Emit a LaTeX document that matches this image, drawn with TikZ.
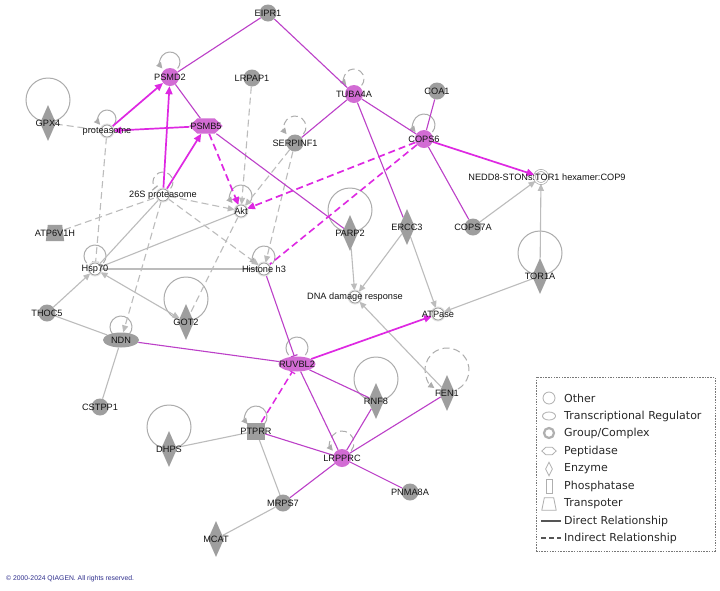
\documentclass[tikz,border=0pt]{standalone}
\usepackage{fontspec}
\setmainfont{Liberation Sans}
\newfontfamily\legfont{DejaVu Sans}
\usetikzlibrary{arrows.meta,shapes.geometric}
\pgfdeclarelayer{background}
\pgfsetlayers{background,main}
\definecolor{mline}{RGB}{188,64,200}
\definecolor{marr}{RGB}{222,40,226}
\definecolor{mnode}{RGB}{210,108,212}
\definecolor{gnode}{RGB}{158,158,158}
\definecolor{gline}{RGB}{188,188,188}
\definecolor{gloop}{RGB}{172,172,172}
\definecolor{onode}{RGB}{150,150,150}
\definecolor{ohalo}{RGB}{226,226,226}
\definecolor{txt}{RGB}{20,20,20}
\definecolor{copyc}{RGB}{45,45,140}
\definecolor{legtext}{RGB}{40,40,40}
\definecolor{licon}{RGB}{175,175,175}
\definecolor{legbox}{RGB}{120,120,120}
\definecolor{legline}{RGB}{85,85,85}
\newcommand\mknode[4]{\node[#2] (#1) at (#3) {}; \node[lab] (#1-t) at (#1) {#4};}
\newcommand\mkloop[4]{\draw[#4] ([shift={(-40:#3pt)},yshift=#2pt]#1.center) arc[start angle=-40,end angle=220,radius=#3pt];}
\newcommand\mkbig[3]{\draw[#3] ([yshift=#2pt]#1.center) circle[radius=22pt];}
\tikzset{
  lab/.style={font=\fontsize{9.2}{10}\selectfont, text=txt, inner sep=0pt},
  othern/.style={circle, draw=onode, line width=0.7pt, fill=white, minimum size=12pt, inner sep=0pt, preaction={draw=ohalo, line width=3pt}},
  cplx/.style={circle, draw=onode, line width=0.6pt, double=white, double distance=1.4pt, minimum size=13pt, inner sep=0pt},
  gcirc/.style={circle, fill=gnode, minimum size=17pt, inner sep=0pt},
  mcirc/.style={circle, fill=mnode, minimum size=18pt, inner sep=0pt},
  gdia/.style={diamond, fill=gnode, minimum width=16pt, minimum height=36pt, inner sep=0pt},
  gell/.style={ellipse, fill=gnode, minimum width=36pt, minimum height=15pt, inner sep=0pt},
  mell/.style={ellipse, fill=mnode, minimum width=37pt, minimum height=15pt, inner sep=0pt},
  ghost/.style={rectangle, inner sep=0pt},
  gphos/.style={rectangle, fill=gnode, minimum width=18pt, minimum height=17pt, inner sep=0pt},
  medge/.style={draw=mline, line width=1.1pt},
  marrow/.style={draw=marr, line width=1.7pt, -{Triangle[length=8pt,width=7pt]}},
  mdash/.style={dash pattern=on 7pt off 4pt},
  gedge/.style={draw=gline, line width=1.1pt},
  garrow/.style={gedge, -{Triangle[length=7pt,width=6pt]}},
  tbar/.style={-{Bar[width=7pt,line width=1.2pt]}},
  loopl/.style={draw=gloop, line width=1pt},
  lotip/.style={-{Triangle[length=6pt,width=6pt]}},
  licn/.style={draw=licon, line width=0.8pt, inner sep=0pt},
  legt/.style={anchor=west, font=\legfont\fontsize{11}{12}\selectfont, text=legtext, inner sep=0pt},
}
\begin{document}
\begin{tikzpicture}[x=1pt,y=1pt]
\path[use as bounding box] (0,0) rectangle (720,-590);

% nodes
\mknode{EIPR1}{gcirc}{268,-13}{EIPR1}
\mknode{PSMD2}{mcirc}{170,-77}{PSMD2}
\mknode{LRPAP1}{gcirc}{252,-78}{LRPAP1}
\mknode{GPX4}{gdia}{48,-123}{GPX4}
\mknode{proteasome}{othern}{107,-131}{proteasome}
\mknode{PSMB5}{ghost, minimum width=33pt, minimum height=15pt}{206,-126}{PSMB5}
\mknode{TUBA4A}{mcirc}{354,-94}{TUBA4A}
\mknode{COA1}{gcirc}{437,-91}{COA1}
\mknode{SERPINF1}{gcirc}{295,-143}{SERPINF1}
\mknode{COPS6}{mcirc}{424,-139}{COPS6}
\node[cplx, fill=white] (NEDD8) at (541,-177) {};
\node[lab] (NEDD8-t) at (547,-177) {NEDD8-STONs:TOR1 hexamer:COP9};
\mknode{S26}{othern}{163,-195}{26S proteasome}
\mknode{Akt}{othern}{241,-211}{Akt}
\mknode{ATP6V1H}{ghost, minimum width=18pt, minimum height=16pt}{55,-233}{ATP6V1H}
\mknode{PARP2}{gdia}{350,-233}{PARP2}
\mknode{ERCC3}{gdia}{407,-227}{ERCC3}
\mknode{COPS7A}{gcirc}{473,-227}{COPS7A}
\mknode{Hsp70}{othern}{95,-269}{Hsp70}
\mknode{Histone}{othern}{264,-269}{Histone h3}
\mknode{DNA}{othern}{355,-297}{DNA damage response}
\mknode{TOR1A}{gdia}{540,-276}{TOR1A}
\mknode{ATPase}{othern}{438,-314}{ATPase}
\mknode{THOC5}{gcirc}{47,-313}{THOC5}
\mknode{GOT2}{gdia}{186,-322}{GOT2}
\mknode{NDN}{gell}{121,-340}{NDN}
\mknode{RUVBL2}{mell}{297,-364}{RUVBL2}
\mknode{RNF8}{gdia}{376,-401}{RNF8}
\mknode{FEN1}{gdia}{447,-393}{FEN1}
\mknode{CSTPP1}{gcirc}{100,-407}{CSTPP1}
\mknode{DHPS}{gdia}{169,-449}{DHPS}
\mknode{PTPRR}{gphos}{256,-431}{PTPRR}
\mknode{LRPPRC}{mcirc}{342,-458}{LRPPRC}
\mknode{PNMA8A}{gcirc}{410,-492}{PNMA8A}
\mknode{MRPS7}{gcirc}{283,-503}{MRPS7}
\mknode{MCAT}{gdia}{216,-539}{MCAT}

\begin{pgfonlayer}{background}
\fill[white] (0,0) rectangle (720,-590);
% big self loops
\mkbig{GPX4}{23}{loopl}
\mkbig{PARP2}{23}{loopl}
\mkbig{TOR1A}{23}{loopl}
\mkbig{GOT2}{23}{loopl}
\mkbig{RNF8}{22}{loopl}
\mkbig{DHPS}{22}{loopl}
\draw[loopl, mdash, lotip] ([shift={(-60:22pt)},yshift=23pt]FEN1.center) arc[start angle=-60,end angle=235,radius=22pt];
% small self loops
\mkloop{PSMD2}{15}{10}{loopl,lotip}
\mkloop{proteasome}{12}{9}{loopl,lotip}
\mkloop{TUBA4A}{15}{10}{loopl,mdash,lotip}
\mkloop{SERPINF1}{16}{11}{loopl,mdash,lotip}
\mkloop{COPS6}{14}{11}{loopl,lotip}
\mkloop{S26}{13}{10}{loopl,mdash,tbar}
\mkloop{Akt}{15}{11}{loopl,lotip}
\mkloop{Hsp70}{13}{11}{loopl}
\mkloop{Histone}{12}{11}{loopl,lotip}
\mkloop{NDN}{13}{11}{loopl}
\mkloop{RUVBL2}{16}{11}{loopl}
\mkloop{PTPRR}{14}{11}{loopl,lotip}
\mkloop{LRPPRC}{15}{12}{loopl,mdash,lotip}

% gray edges
\draw[gedge,mdash] (GPX4) -- (proteasome);
\draw[gedge,mdash,tbar] (proteasome) -- (Hsp70);
\draw[garrow,mdash] (LRPAP1) -- (Akt);
\draw[garrow,mdash] (SERPINF1) -- (Akt);
\draw[garrow,mdash] (SERPINF1) -- (Histone);
\draw[garrow,mdash] (S26) -- (Akt);
\draw[garrow,mdash] (S26) -- (Histone);
\draw[gedge,mdash] (ATP6V1H) -- (S26);
\draw[gedge] (S26) -- (Hsp70);
\draw[garrow,mdash] (S26) -- (NDN);
\draw[gedge] (Akt) -- (Hsp70);
\draw[gedge,mdash] (Akt) -- (GOT2);
\draw[gedge] (Hsp70) -- (Histone);
\draw[garrow] (THOC5) -- (Hsp70);
\draw[gedge,{Triangle[length=7pt,width=6pt]}-{Triangle[length=7pt,width=6pt]}] (Hsp70) -- (GOT2);
\draw[gedge] (THOC5) -- (NDN);
\draw[gedge] (NDN) -- (CSTPP1);
\draw[garrow] (PARP2) -- (DNA);
\draw[garrow] (ERCC3) -- (DNA);
\draw[garrow] (ERCC3) -- (ATPase);
\draw[garrow] (COPS7A) -- (NEDD8);
\draw[garrow] (TOR1A) -- (NEDD8);
\draw[garrow] (TOR1A) -- (ATPase);
\draw[garrow] (FEN1) -- (DNA);
\draw[gedge] (DHPS) -- (PTPRR);
\draw[gedge] (PTPRR) -- (MRPS7);
\draw[gedge] (MRPS7) -- (MCAT);

% magenta edges
\draw[medge] (EIPR1) -- (PSMD2);
\draw[medge] (EIPR1) -- (TUBA4A);
\draw[medge] (PSMD2) -- (PSMB5);
\draw[marrow] (proteasome) -- (PSMD2);
\draw[marrow] (PSMB5) -- (proteasome);
\draw[marrow] (S26) -- (PSMD2);
\draw[marrow] (S26) -- (PSMB5);
\draw[marrow,mdash] (PSMB5) -- (Akt);
\draw[medge] (PSMB5) -- (PARP2);
\draw[medge] (TUBA4A) -- (SERPINF1);
\draw[medge] (TUBA4A) -- (COPS6);
\draw[medge] (TUBA4A) -- (ERCC3);
\draw[medge] (COA1) -- (COPS6);
\draw[marrow] (COPS6) -- (NEDD8);
\draw[marrow,mdash] (COPS6) -- (Akt);
\draw[draw=marr, line width=1.6pt, mdash] (COPS6) -- (Histone);
\draw[medge] (COPS6) -- (COPS7A);
\draw[medge,tbar] (Histone) -- (RUVBL2);
\draw[medge] (NDN) -- (RUVBL2);
\draw[marrow] (RUVBL2) -- (ATPase);
\draw[medge] (RUVBL2) -- (RNF8);
\draw[medge] (RUVBL2) -- (LRPPRC);
\draw[draw=marr, line width=1.5pt, mdash, tbar] (PTPRR) -- (RUVBL2);
\draw[medge] (PTPRR) -- (LRPPRC);
\draw[medge] (RNF8) -- (LRPPRC);
\draw[medge] (FEN1) -- (LRPPRC);
\draw[medge] (LRPPRC) -- (PNMA8A);
\draw[medge] (LRPPRC) -- (MRPS7);

% custom shapes
\fill[mnode] (PSMB5.west) -- ([xshift=8pt]PSMB5.north west) -- ([xshift=-8pt]PSMB5.north east) -- (PSMB5.east) -- ([xshift=-8pt]PSMB5.south east) -- ([xshift=8pt]PSMB5.south west) -- cycle;
\fill[gnode] ([xshift=2pt]ATP6V1H.north west) -- ([xshift=-2pt]ATP6V1H.north east) -- (ATP6V1H.south east) -- (ATP6V1H.south west) -- cycle;
\end{pgfonlayer}

% legend
\node[draw=legbox, dash pattern=on 1.5pt off 1.2pt, line width=0.6pt, minimum width=179pt, minimum height=174pt, inner sep=0pt] (legend) at (625.5,-464) {};
\node[licn, circle, minimum size=12pt] (li-other) at (549,-398) {};
\node[licn, ellipse, minimum width=13pt, minimum height=8pt] (li-tr) at (549,-416) {};
\node[draw=licon, line width=2.2pt, circle, minimum size=10pt, inner sep=0pt] (li-gc) at (549,-433) {};
\node[ghost, minimum width=14pt, minimum height=7pt] (li-pep) at (549,-451) {};
\draw[licn] (li-pep.west) -- ([xshift=4pt]li-pep.north west) -- ([xshift=-4pt]li-pep.north east) -- (li-pep.east) -- ([xshift=-4pt]li-pep.south east) -- ([xshift=4pt]li-pep.south west) -- cycle;
\node[licn, diamond, minimum width=7pt, minimum height=14pt] (li-enz) at (549,-469) {};
\node[licn, rectangle, minimum width=6pt, minimum height=14pt] (li-ph) at (549,-486) {};
\node[ghost, minimum width=14pt, minimum height=12pt] (li-trp) at (549,-504) {};
\draw[licn] ([xshift=2.5pt]li-trp.north west) -- ([xshift=-2.5pt]li-trp.north east) -- (li-trp.south east) -- (li-trp.south west) -- cycle;
\coordinate (ld1) at (541,-521); \coordinate (ld2) at (561,-521);
\draw[draw=legline, line width=1.3pt] (ld1) -- (ld2);
\coordinate (li1) at (541,-538); \coordinate (li2) at (561,-538);
\draw[draw=legline, line width=1.3pt, dash pattern=on 5pt off 3pt] (li1) -- (li2);
\node[legt] (lt1) at (564,-398) {Other};
\node[legt] (lt2) at (564,-416) {Transcriptional Regulator};
\node[legt] (lt3) at (564,-433) {Group/Complex};
\node[legt] (lt4) at (564,-451) {Peptidase};
\node[legt] (lt5) at (564,-469) {Enzyme};
\node[legt] (lt6) at (564,-486) {Phosphatase};
\node[legt] (lt7) at (564,-504) {Transpoter};
\node[legt] (lt8) at (564,-521) {Direct Relationship};
\node[legt] (lt9) at (564,-538) {Indirect Relationship};

\node[anchor=west, font=\fontsize{6.8}{8}\selectfont, text=copyc, inner sep=0pt] (copy) at (6,-579) {© 2000-2024 QIAGEN. All rights reserved.};
\end{tikzpicture}
\end{document}
